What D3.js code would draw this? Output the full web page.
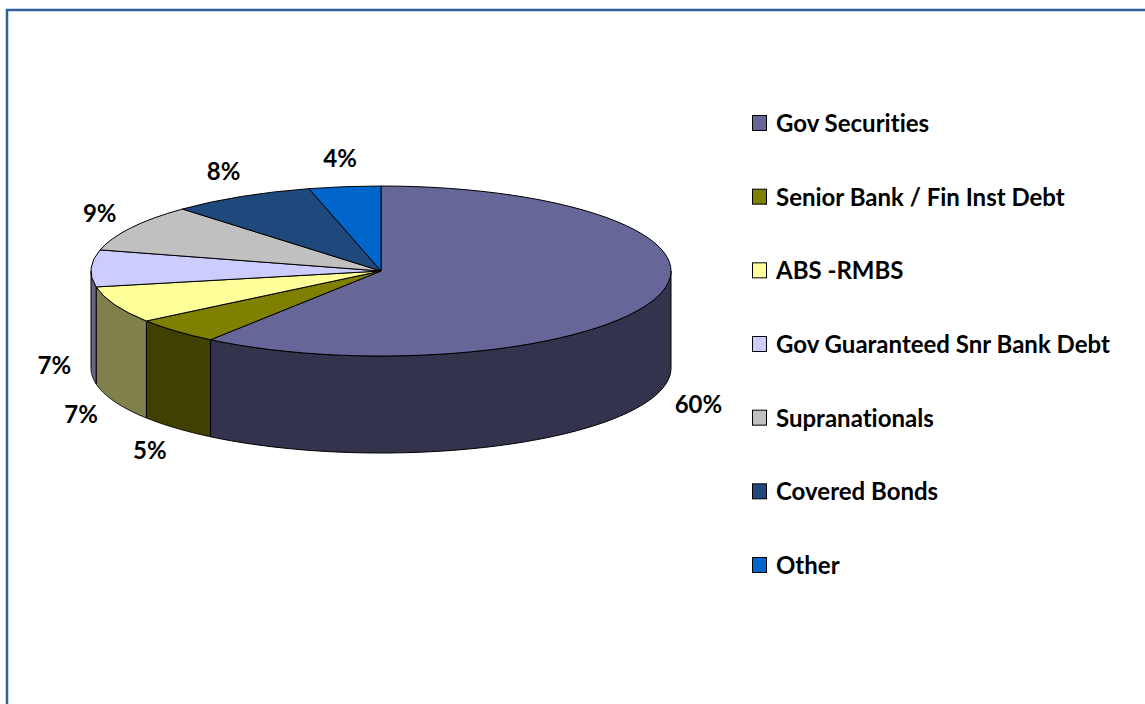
<!DOCTYPE html>
<html>
<head>
<meta charset="utf-8">
<script src="https://cdn.jsdelivr.net/npm/d3@7"></script>
<style>
  html, body { margin: 0; padding: 0; background: #ffffff; }
  svg { display: block; }
  text {
    font-family: "Lato", "Open Sans", sans-serif;
    font-weight: 700;
    fill: #000;
    font-variant-ligatures: none;
    font-feature-settings: "liga" 0;
  }
</style>
</head>
<body>
<svg id="chart" width="1145" height="704"></svg>
<script>
// Portfolio allocation by asset class
const categories = [
  "Gov Securities",
  "Senior Bank / Fin Inst Debt",
  "ABS -RMBS",
  "Gov Guaranteed Snr Bank Debt",
  "Supranationals",
  "Covered Bonds",
  "Other"
];
const values = [60, 5, 7, 7, 9, 8, 4];
const colors = ["#666699", "#808000", "#FFFF99", "#CCCCFF", "#C0C0C0", "#1F497D", "#0066CC"];

const W = 1145, H = 704;
const svg = d3.select("#chart");

// Frame around the chart area
svg.append("path")
  .attr("d", `M7,${H + 5} L7,10 L${W + 5},10`)
  .attr("fill", "none")
  .attr("stroke", "#30609a")
  .attr("stroke-width", 2.5);

// 3D pie geometry
const cx = 381, cy = 271, rx = 290, ry = 85, depth = 97;

const pie = d3.pie().sort(null).value(d => d.value).startAngle(0).endAngle(2 * Math.PI);
const data = categories.map((c, i) => ({ name: c, value: values[i], color: colors[i] }));
const arcs = pie(data);

const pt = (a, z) => [cx + rx * Math.sin(a), cy - ry * Math.cos(a) + z];

// Side walls (front half only, angles between 90° and 270°)
const sideG = svg.append("g");
arcs.forEach(d => {
  const a0 = Math.max(d.startAngle, Math.PI / 2);
  const a1 = Math.min(d.endAngle, 3 * Math.PI / 2);
  if (a1 <= a0) return;
  const n = 80;
  const top = d3.range(n + 1).map(k => pt(a0 + (a1 - a0) * k / n, 0));
  const bottom = d3.range(n + 1).map(k => pt(a1 - (a1 - a0) * k / n, depth));
  sideG.append("path")
    .attr("d", d3.line()(top.concat(bottom)) + "Z")
    .attr("fill", d3.color(d.data.color).darker(1.94))
    .attr("stroke", "#000")
    .attr("stroke-width", 1)
    .attr("stroke-linejoin", "round");
});

// Top faces
const arcGen = d3.arc().innerRadius(0).outerRadius(rx);
const topG = svg.append("g")
  .attr("transform", `translate(${cx},${cy}) scale(1,${ry / rx})`);
topG.selectAll("path")
  .data(arcs)
  .join("path")
  .attr("d", arcGen)
  .attr("fill", d => d.data.color)
  .attr("stroke", "#000")
  .attr("stroke-width", 1)
  .attr("vector-effect", "non-scaling-stroke")
  .attr("stroke-linejoin", "round");

// Percentage labels placed just outside the rim
const labelG = svg.append("g");
const fontSize = 24;
arcs.forEach(d => {
  const a = (d.startAngle + d.endAngle) / 2;
  const s = Math.sin(a), c = Math.cos(a);
  const rim = pt(a, c < 0.1 ? depth : 0);
  const t = labelG.append("text")
    .attr("font-size", fontSize)
    .attr("text-anchor", "middle")
    .attr("dominant-baseline", "central")
    .text(d.data.value + "%");
  const w = t.node().getComputedTextLength();
  const h = fontSize * 0.8;
  const gap = 20;
  const x = rim[0] + gap * s + s * w / 2;
  const y = rim[1] - gap * c - c * h / 2;
  t.attr("x", x).attr("y", y);
});

// Legend
const ly = d3.scalePoint().domain(categories).range([123, 565]);
const legend = svg.append("g");
const rows = legend.selectAll("g")
  .data(data)
  .join("g")
  .attr("transform", d => `translate(0,${ly(d.name)})`);
rows.append("rect")
  .attr("x", 752.5).attr("y", -7.5)
  .attr("width", 14).attr("height", 15)
  .attr("fill", d => d.color)
  .attr("stroke", "#000")
  .attr("stroke-width", 1);
rows.append("text")
  .attr("x", 776)
  .attr("y", 9)
  .attr("font-size", fontSize)
  .text(d => d.name);
</script>
</body>
</html>
